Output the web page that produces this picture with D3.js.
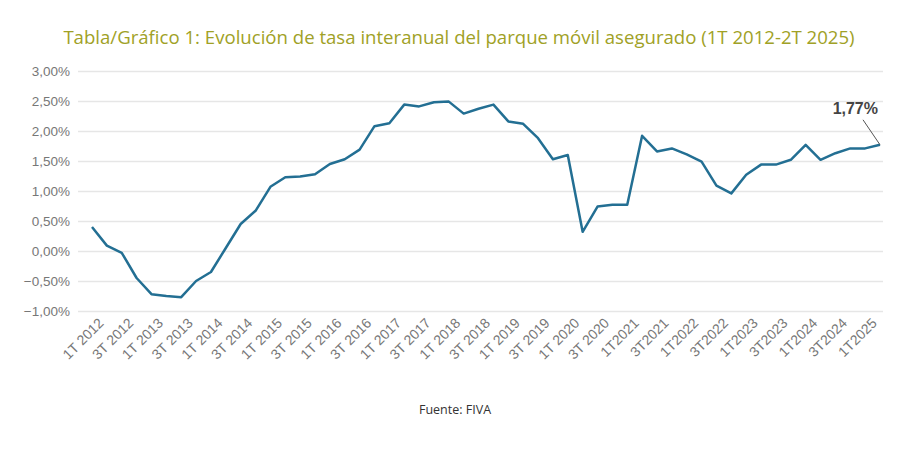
<!DOCTYPE html>
<html>
<head>
<meta charset="utf-8">
<script src="https://cdn.jsdelivr.net/npm/d3@7"></script>
<style>
  body { margin: 0; background: #fff; font-family: "Open Sans", sans-serif; }
</style>
</head>
<body>
<svg id="chart" width="900" height="475"></svg>
<script>
// quarters 1T 2012 .. 2T 2025
const quarters = []
for (let y = 2012; y <= 2025; y++) for (let q = 1; q <= 4; q++) {
  if (y === 2025 && q > 2) break
  quarters.push(y >= 2021 ? `${q}T${y}` : `${q}T ${y}`)
}
const values = [0.40, 0.09, -0.03, -0.45, -0.72, -0.75, -0.77, -0.50, -0.35, 0.05,
  0.45, 0.67, 1.07, 1.23, 1.24, 1.28, 1.45, 1.53, 1.69, 2.08,
  2.13, 2.44, 2.41, 2.48, 2.49, 2.29, 2.37, 2.44, 2.16, 2.12,
  1.88, 1.53, 1.60, 0.32, 0.74, 0.77, 0.77, 1.92, 1.66, 1.71,
  1.61, 1.49, 1.09, 0.96, 1.27, 1.44, 1.44, 1.52, 1.77, 1.52,
  1.63, 1.71, 1.71, 1.77]
const yTicks = [-1, -0.5, 0, 0.5, 1, 1.5, 2, 2.5, 3]

const svg = d3.select('#chart')
const fmt = v => d3.format('.2f')(v).replace('.', ',') + '%'

const x = d3.scalePoint().domain(quarters).range([92, 880])
const y = d3.scaleLinear().domain([-1, 3]).range([311, 71])

svg.append('text')
  .attr('x', 459).attr('y', 44)
  .attr('text-anchor', 'middle')
  .attr('font-size', 18.6)
  .attr('fill', '#a0a126')
  .text('Tabla/Gráfico 1: Evolución de tasa interanual del parque móvil asegurado (1T 2012-2T 2025)')

// grid + y labels
const yAxis = svg.append('g')
  .attr('transform', 'translate(78,0)')
  .call(d3.axisLeft(y).tickValues(yTicks).tickFormat(fmt).tickSize(-805).tickPadding(8))
yAxis.select('.domain').remove()
yAxis.selectAll('line').attr('stroke', '#e6e6e6').attr('stroke-width', 1.5)
yAxis.selectAll('text').attr('fill', '#777').attr('font-size', 13.5).attr('font-family', 'Liberation Sans, Arial, sans-serif')

// x labels every other quarter
const xAxis = svg.append('g')
  .attr('transform', 'translate(0,318)')
  .call(d3.axisBottom(x).tickValues(quarters.filter((d, i) => i % 2 === 0)).tickSize(0))
xAxis.select('.domain').remove()
xAxis.selectAll('text')
  .attr('fill', '#777').attr('font-size', 14).attr('font-family', 'Liberation Sans, Arial, sans-serif')
  .attr('text-anchor', 'end')
  .attr('transform', 'rotate(-45)')
  .attr('dx', '0.3em').attr('dy', '0.7em')

const line = d3.line().x((d, i) => x(quarters[i])).y(d => y(d))
svg.append('path')
  .datum(values)
  .attr('d', line)
  .attr('fill', 'none')
  .attr('stroke', '#236f93')
  .attr('stroke-width', 2.5)
  .attr('stroke-linejoin', 'round')

// final value callout
const lx = x(quarters[quarters.length - 1]), ly = y(values[values.length - 1])
svg.append('line')
  .attr('x1', lx).attr('y1', ly)
  .attr('x2', lx - 17).attr('y2', ly - 25)
  .attr('stroke', '#555').attr('stroke-width', 1)
svg.append('text')
  .attr('x', lx - 2).attr('y', ly - 31)
  .attr('text-anchor', 'end')
  .attr('font-size', 16).attr('font-weight', 'bold')
  .attr('font-family', 'Liberation Sans, Arial, sans-serif')
  .attr('fill', '#444')
  .text(fmt(values[values.length - 1]))

svg.append('text')
  .attr('x', 455).attr('y', 414)
  .attr('text-anchor', 'middle')
  .attr('font-size', 12.5)
  .attr('fill', '#333')
  .text('Fuente: FIVA')
</script>
</body>
</html>
